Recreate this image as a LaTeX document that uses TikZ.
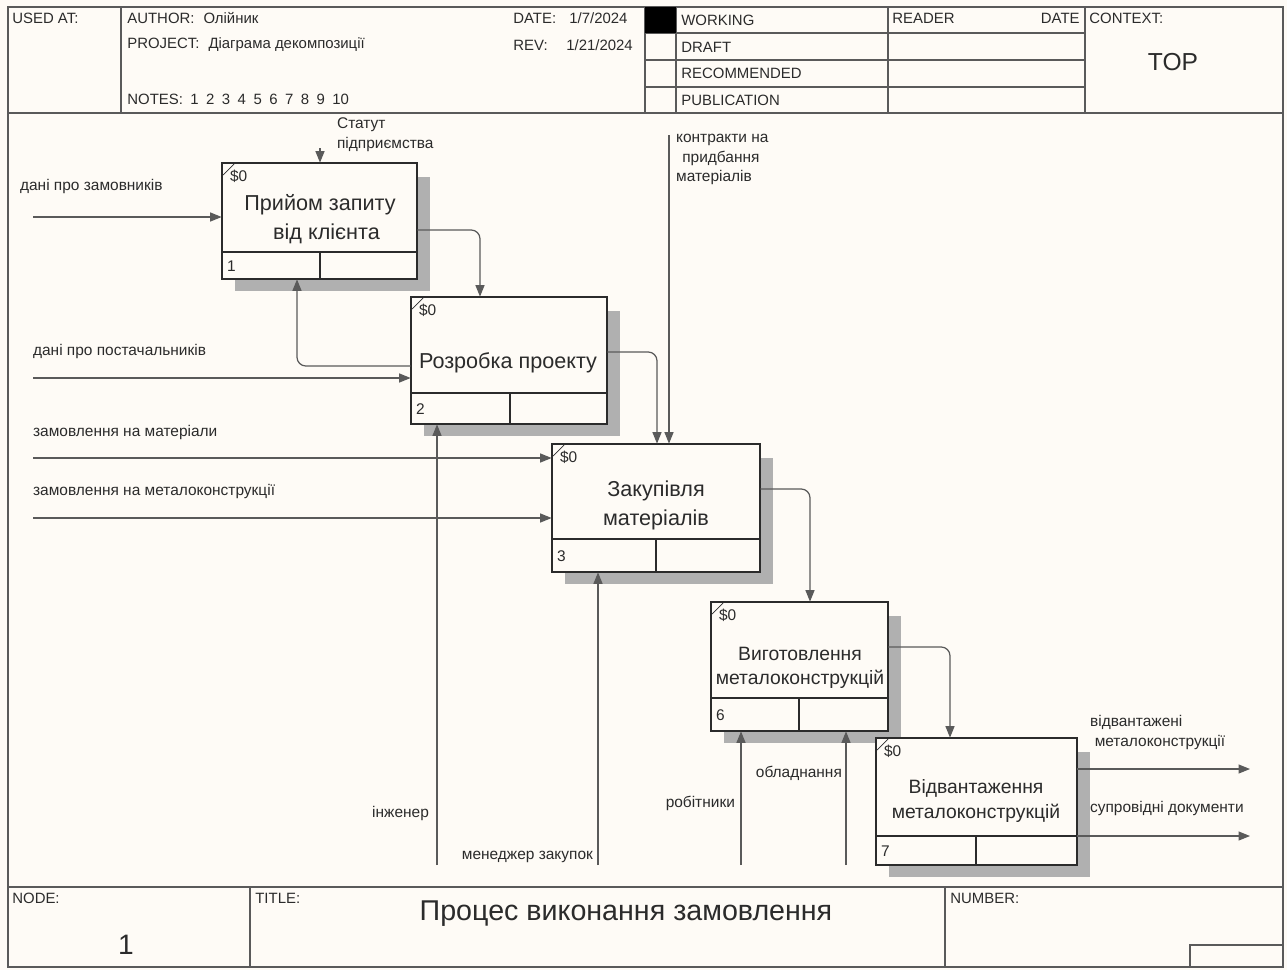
\documentclass[tikz,border=0pt]{standalone}
\usepackage{fontspec}
\setmainfont{Liberation Sans}
\usetikzlibrary{arrows.meta,fit,positioning}
\definecolor{paper}{HTML}{FEFBF6}
\definecolor{ink}{HTML}{2B2B2B}
\definecolor{wire}{HTML}{5A5A5A}
\definecolor{shadowgray}{HTML}{B0B0B0}
\tikzset{
	frame/.style={draw=wire, line width=0.6pt},
	lbl/.style={font=\fontsize{8.8}{11.2}\selectfont, text=ink, inner sep=1pt},
	hdr/.style={font=\fontsize{8.5}{10}\selectfont, text=ink, inner sep=0pt, anchor=west},
	flow/.style={draw=wire, line width=0.7pt, -{Triangle[length=2.3mm,width=1.8mm]}, rounded corners=5pt},
	boxtxt/.style={font=\fontsize{12.3}{16.5}\selectfont, align=center, text=ink},
}
% name, x1, y1, x2, y2, divider y, divider x, number
\newcommand{\actbox}[8]{
	\fill[shadowgray] (#2+13,#3+14) rectangle (#4+13,#5+12);
	\draw[ink, line width=1.1pt, fill=paper] (#2,#3) rectangle (#4,#5);
	\node[fit={(#2,#3) (#4,#5)}, inner sep=0pt] (#1) {};
	\draw[ink, line width=1.1pt] (#2,#6) -- (#4,#6) (#7,#6) -- (#7,#5);
	\node[lbl, anchor=west] (#1num) at (#2+3,{(#6+#5)/2+1}) {#8};
	\node[lbl, anchor=north west] (#1cost) at (#2+6,#3+5) {\$0};
	\draw[ink] (#2+1,#3+12) -- (#2+12,#3+1);
}
\begin{document}
\begin{tikzpicture}[x=0.02cm, y=-0.02cm]
	\fill[paper] (0,0) rectangle (1287,970);
	\useasboundingbox (0,0) rectangle (1287,970);

	\draw[frame] (8,7) rectangle (1283,967);
	\draw[frame] (8,113) -- (1283,113) (8,887) -- (1283,887);
	\draw[frame] (121,7) -- (121,113) (645,7) -- (645,113) (676,7) -- (676,113) (888,7) -- (888,113) (1085,7) -- (1085,113);
	\draw[frame] (645,33) -- (1085,33) (645,60) -- (1085,60) (645,87) -- (1085,87);
	\fill[black] (645,7) rectangle (676,33);
	\draw[frame] (250,887) -- (250,967) (945,887) -- (945,967);
	\draw[frame] (1190,945) rectangle (1283,967);

	\node[hdr] (usedat) at (12,18) {USED AT:};
	\node[hdr] (author) at (127,18) {AUTHOR:\hspace{0.6em}Олійник};
	\node[hdr] (project) at (127,45) {PROJECT:\hspace{0.6em}Діаграма декомпозиції};
	\node[hdr] (notes) at (127,99) {NOTES:\hspace{0.5em}1\hspace{0.5em}2\hspace{0.5em}3\hspace{0.5em}4\hspace{0.5em}5\hspace{0.5em}6\hspace{0.5em}7\hspace{0.5em}8\hspace{0.5em}9\hspace{0.5em}10};
	\node[hdr] (date) at (513,18) {DATE:};
	\node[hdr] (dateval) at (569,18) {1/7/2024};
	\node[hdr] (rev) at (513,45) {REV:};
	\node[hdr] (revval) at (566,45) {1/21/2024};
	\node[hdr] (working) at (681,20) {WORKING};
	\node[hdr] (draft) at (681,47) {DRAFT};
	\node[hdr] (recom) at (681,73) {RECOMMENDED};
	\node[hdr] (public) at (681,100) {PUBLICATION};
	\node[hdr] (reader) at (892,18) {READER};
	\node[hdr, anchor=east] (rdate) at (1080,18) {DATE};
	\node[hdr] (context) at (1089,18) {CONTEXT:};
	\node[font=\fontsize{14}{16}\selectfont, text=ink] (top) at (1173,62) {TOP};
	\node[hdr] (nodelbl) at (12,898) {NODE:};
	\node[font=\fontsize{16}{18}\selectfont, text=ink] (nodenum) at (126,945) {1};
	\node[hdr] (titlelbl) at (255,898) {TITLE:};
	\node[font=\fontsize{16.3}{18}\selectfont, text=ink] (title) at (626,914) {Процес виконання замовлення};
	\node[hdr] (number) at (950,898) {NUMBER:};

	\actbox{b1}{222}{163}{417}{279}{252}{320}{1}
	\actbox{b2}{411}{297}{607}{424}{393}{510}{2}
	\actbox{b3}{552}{444}{760}{572}{539}{656}{3}
	\actbox{b4}{711}{602}{888}{731}{698}{799}{6}
	\actbox{b5}{876}{738}{1077}{865}{836}{976}{7}

	\node[boxtxt] (t1) at (320,219) {Прийом запиту\\\hspace*{0.6em}від клієнта};
	\node[boxtxt] (t2) at (508,363) {Розробка проекту};
	\node[boxtxt] (t3) at (656,505) {Закупівля\\матеріалів};
	\node[boxtxt, font=\fontsize{11}{14}\selectfont] (t4) at (800,668) {Виготовлення\\металоконструкцій};
	\node[boxtxt, font=\fontsize{11}{14}\selectfont] (t5) at (976,801) {Відвантаження\\металоконструкцій};

	\coordinate (inCust) at (33,217);
	\coordinate (ctlStat) at (320,148);
	\coordinate (j12) at (480,230);
	\coordinate (fb21) at (297,366);
	\coordinate (inSupp) at (33,378);
	\coordinate (j23) at (657,352);
	\coordinate (ctlCon) at (669,135);
	\coordinate (inMat) at (33,458);
	\coordinate (inMet) at (33,518);
	\coordinate (mEng) at (437,865);
	\coordinate (mMan) at (598,865);
	\coordinate (j34) at (810,489);
	\coordinate (mWork) at (741,865);
	\coordinate (mEquip) at (846,865);
	\coordinate (j45) at (950,647);
	\coordinate (outShip) at (1250,769);
	\coordinate (outDocs) at (1250,836);

	\draw[flow] (inCust) -- (inCust -| b1.west);
	\draw[flow] (ctlStat) -- (ctlStat |- b1.north);
	\draw[flow] (j12 -| b1.east) -| (j12 |- b2.north);
	\draw[flow] (fb21 -| b2.west) -| (fb21 |- b1.south);
	\draw[flow] (inSupp) -- (inSupp -| b2.west);
	\draw[flow] (j23 -| b2.east) -| (j23 |- b3.north);
	\draw[flow] (ctlCon) -- (ctlCon |- b3.north);
	\draw[flow] (inMat) -- (inMat -| b3.west);
	\draw[flow] (inMet) -- (inMet -| b3.west);
	\draw[flow] (mEng) -- (mEng |- b2.south);
	\draw[flow] (mMan) -- (mMan |- b3.south);
	\draw[flow] (j34 -| b3.east) -| (j34 |- b4.north);
	\draw[flow] (mWork) -- (mWork |- b4.south);
	\draw[flow] (mEquip) -- (mEquip |- b4.south);
	\draw[flow] (j45 -| b4.east) -| (j45 |- b5.north);
	\draw[flow] (outShip -| b5.east) -- (outShip);
	\draw[flow] (outDocs -| b5.east) -- (outDocs);

	\node[lbl, anchor=north west, align=left] (lStat) at (335,116) {Статут\\підприємства};
	\node[lbl, anchor=west] (lCust) at (18,186) {дані про замовників};
	\node[lbl, anchor=north west, align=left] (lCon) at (674,132) {контракти на\\\hspace*{0.4em}придбання\\матеріалів};
	\node[lbl, anchor=west] (lSupp) at (31,351) {дані про постачальників};
	\node[lbl, anchor=west] (lMat) at (31,432) {замовлення на матеріали};
	\node[lbl, anchor=west] (lMet) at (31,491) {замовлення на металоконструкції};
	\node[lbl, anchor=east] (lEng) at (431,813) {інженер};
	\node[lbl, anchor=east] (lMan) at (595,857) {менеджер закупок};
	\node[lbl, anchor=east] (lWork) at (737,803) {робітники};
	\node[lbl, anchor=east] (lEquip) at (844,773) {обладнання};
	\node[lbl, anchor=north west, align=left] (lShip) at (1088,713) {відвантажені\\\hspace*{0.3em}металоконструкції};
	\node[lbl, anchor=west] (lDocs) at (1088,808) {супровідні документи};
\end{tikzpicture}
\end{document}
